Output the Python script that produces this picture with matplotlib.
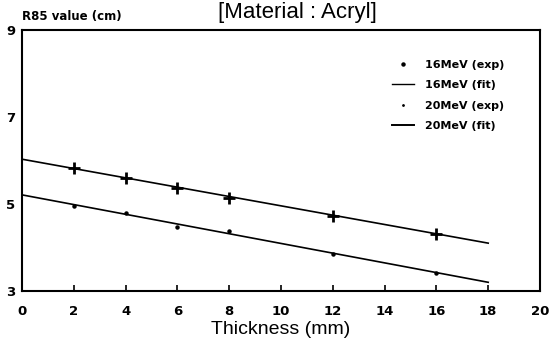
import numpy as np
import matplotlib as mpl
mpl.use('Agg')
import matplotlib.pyplot as plt
from matplotlib.lines import Line2D

# thickness (mm) of the measurements
thick = [2, 4, 6, 8, 12, 16]
# R85 values (cm)
r85_20mev = [5.83, 5.59, 5.36, 5.13, 4.72, 4.31]
r85_16mev = [4.96, 4.79, 4.46, 4.39, 3.85, 3.42]

# fitted lines, end points at 0 and 18 mm
fit_x = [0, 18]
fit_20mev = [6.03, 4.10]
fit_16mev = [5.21, 3.20]

xticks = list(range(0, 21, 2))
yticks = [3, 5, 7, 9]

fig = plt.figure(figsize=(5.56, 3.43), dpi=100)
ax = fig.add_axes([22/556, 52/343, 518/556, 261/343])

ax.plot(fit_x, fit_20mev, color='black', lw=1.2)
ax.plot(fit_x, fit_16mev, color='black', lw=1.2)
ax.plot(thick, r85_20mev, ls='none', marker='+', ms=8, mew=2.0, color='black')
ax.plot(thick, r85_16mev, ls='none', marker='o', ms=2.2, color='black')

ax.set_xlim(0, 20)
ax.set_ylim(3, 9)
ax.set_xticks(xticks)
ax.set_yticks(yticks)
ax.tick_params(axis='x', direction='in', length=4, width=1.2, pad=10,
               labelsize=9.5)
ax.tick_params(axis='y', length=0, pad=5, labelsize=9.5)
for lab in ax.get_xticklabels() + ax.get_yticklabels():
    lab.set_fontweight('bold')
for sp in ax.spines.values():
    sp.set_linewidth(1.5)

ax.set_xlabel('Thickness (mm)', fontsize=14, family='Liberation Sans', labelpad=2)
ax.text(0.0, 1.025, 'R85 value (cm)', transform=ax.transAxes, fontsize=8.5,
        fontweight='bold', ha='left', va='bottom')
# the scan cuts the title at the top; keep it whole just under the edge
fig.text(0.535, 0.948, '[Material : Acryl]', fontsize=16,
         family='Liberation Sans', ha='center', va='baseline')

handles = [
    Line2D([], [], ls='none', marker='o', ms=2.2, color='black'),
    Line2D([], [], color='black', lw=1.0),
    Line2D([], [], ls='none', marker='.', ms=2, color='black'),
    Line2D([], [], color='black', lw=1.4),
]
labels = ['16MeV (exp)', '16MeV (fit)', '20MeV (exp)', '20MeV (fit)']
leg = ax.legend(handles, labels, loc='upper left', bbox_to_anchor=(0.695, 0.925),
                frameon=False, fontsize=8, handlelength=2.0, labelspacing=0.95,
                handletextpad=1.0)
for t in leg.get_texts():
    t.set_fontweight('bold')

fig.savefig('out.png', dpi=100)
